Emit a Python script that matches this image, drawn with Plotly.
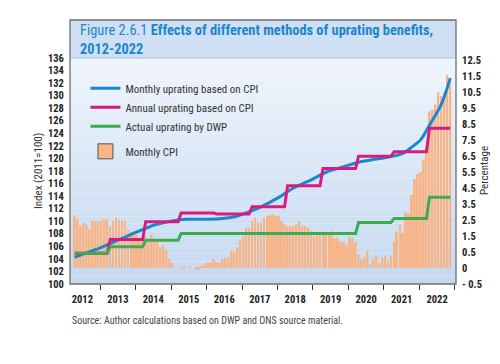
import pandas as pd
import plotly.graph_objects as go

# ---------------- data ----------------
# Monthly CPI (%), Apr 2012 .. Nov 2022
cpi_2012 = [3.0, 2.8, 2.4, 2.6, 2.5, 2.2, 2.7, 2.7, 2.7]
cpi_2013 = [2.7, 2.8, 2.8, 2.4, 2.7, 2.9, 2.8, 2.7, 2.7, 2.2, 2.1, 2.0]
cpi_2014 = [1.9, 1.7, 1.6, 1.8, 1.5, 1.9, 1.6, 1.5, 1.2, 1.3, 1.0, 0.5]
cpi_2015 = [0.3, 0.0, 0.0, -0.1, 0.1, 0.0, 0.1, 0.0, -0.1, -0.1, 0.1, 0.2]
cpi_2016 = [0.3, 0.3, 0.5, 0.3, 0.3, 0.5, 0.6, 0.6, 1.0, 0.9, 1.2, 1.6]
cpi_2017 = [1.8, 2.3, 2.3, 2.7, 2.9, 2.6, 2.6, 2.9, 3.0, 3.0, 3.1, 3.0]
cpi_2018 = [3.0, 2.7, 2.5, 2.4, 2.4, 2.4, 2.5, 2.7, 2.4, 2.4, 2.3, 2.1]
cpi_2019 = [1.8, 1.9, 1.9, 2.1, 2.0, 2.0, 2.1, 1.7, 1.7, 1.5, 1.5, 1.3]
cpi_2020 = [1.8, 1.7, 1.5, 0.8, 0.5, 0.6, 1.0, 0.2, 0.5, 0.7, 0.3, 0.6]
cpi_2021 = [0.7, 0.4, 0.7, 1.5, 2.1, 2.5, 2.0, 3.2, 3.1, 4.2, 5.1, 5.4]
cpi_2022 = [5.5, 6.2, 7.0, 9.0, 9.1, 9.4, 10.1, 9.9, 10.1, 11.1, 10.7]
monthly_cpi = (cpi_2012 + cpi_2013 + cpi_2014 + cpi_2015 + cpi_2016 + cpi_2017
               + cpi_2018 + cpi_2019 + cpi_2020 + cpi_2021 + cpi_2022)

months = pd.date_range("2012-04-01", periods=len(monthly_cpi), freq="MS") + pd.Timedelta(days=14)

# Monthly uprating based on CPI (index, 2011=100) - read points
blue_dates = ["2012-04-15", "2012-07-15", "2013-01-15", "2013-07-15", "2014-01-15",
              "2014-07-15", "2015-01-15", "2015-06-15", "2015-11-15", "2016-05-15",
              "2016-10-15", "2017-03-15", "2017-07-15", "2018-01-15", "2018-06-15",
              "2018-12-15", "2019-05-15", "2019-11-15", "2020-04-15", "2020-10-15",
              "2021-04-15", "2021-07-15", "2021-10-15", "2022-01-15", "2022-04-15",
              "2022-08-15", "2022-11-15"]
blue_values = [104.25, 104.8, 105.85, 107.05, 108.3,
               109.4, 110.05, 110.3, 110.3, 110.4,
               110.7, 111.5, 112.3, 113.8, 115.3,
               116.6, 117.8, 118.7, 119.4, 119.9,
               120.4, 120.8, 121.8, 123.0, 125.3,
               128.6, 132.8]

# Uprating years (April to March)
uprating_years = [2012, 2013, 2014, 2015, 2016, 2017, 2018, 2019, 2020, 2021, 2022]
annual_cpi_index = [104.9, 107.1, 109.9, 111.3, 111.15, 112.3, 115.65, 118.4, 120.35, 121.05, 124.8]
dwp_index = [104.9, 105.95, 106.95, 108.05, 108.05, 108.05, 108.05, 108.05, 109.8, 110.45, 113.8]

right_tick_text = ["- 0.5", "0"] + [f"{v}.5" for v in range(0, 13)]

# ---------------- derived monthly step series ----------------
def upr_year(d):
    return d.year if d.month >= 4 else d.year - 1

annual_map = dict(zip(uprating_years, annual_cpi_index))
dwp_map = dict(zip(uprating_years, dwp_index))
pink_series = [annual_map[upr_year(d)] for d in months]
green_series = [dwp_map[upr_year(d)] for d in months]

# ---------------- styles ----------------
FONT = "Liberation Sans Narrow, Roboto Condensed, DejaVu Sans Condensed, Roboto, sans-serif"
BLUE = "#1a88d0"
PINK = "#d81b7f"
GREEN = "#3dab4f"
ORANGE = "#f8b487"
TITLE_BLUE = "#1b86cc"

fig = go.Figure()

fig.add_trace(go.Bar(
    x=months, y=monthly_cpi, marker=dict(color=ORANGE, line=dict(width=0)),
    yaxis="y", showlegend=False, name="Monthly CPI"))

fig.add_trace(go.Scatter(
    x=pd.to_datetime(blue_dates), y=blue_values, mode="lines",
    line=dict(color=BLUE, width=3, shape="spline", smoothing=0.8),
    yaxis="y2", name="Monthly uprating based on CPI", legendgroup="a"))
fig.add_trace(go.Scatter(
    x=months, y=pink_series, mode="lines", line=dict(color=PINK, width=3),
    yaxis="y2", name="Annual uprating based on CPI", legendgroup="a"))
fig.add_trace(go.Scatter(
    x=months, y=green_series, mode="lines", line=dict(color=GREEN, width=3),
    yaxis="y2", name="Actual uprating by DWP", legendgroup="a"))
# legend swatch for the bars
fig.add_trace(go.Scatter(
    x=[None], y=[None], mode="markers", yaxis="y2", name="Monthly CPI", legendgroup="b",
    marker=dict(symbol="square", size=15, color=ORANGE, line=dict(color="#555555", width=1))))

# ---------------- background shapes ----------------
shapes = []
top_c = (238, 244, 251)
bot_c = (197, 217, 240)
n = 30
for i in range(n):
    t = i / (n - 1)
    c = tuple(int(round(top_c[k] + (bot_c[k] - top_c[k]) * t)) for k in range(3))
    shapes.append(dict(type="rect", xref="paper", yref="paper", layer="below",
                       x0=0, x1=1, y0=1 - (i + 1) / n, y1=1 - i / n,
                       fillcolor=f"rgb{c}", line=dict(width=0)))
TOP = (284 - 20) / 226
shapes.append(dict(type="rect", xref="paper", yref="paper", layer="below",
                   x0=0, x1=1, y0=1, y1=TOP, fillcolor="#cfe0f4", line=dict(width=0)))
shapes.append(dict(type="line", xref="paper", yref="paper", layer="below",
                   x0=0, x1=1, y0=1, y1=1, line=dict(color="#a9c0db", width=1)))
shapes.append(dict(type="rect", xref="paper", yref="paper", layer="above",
                   x0=0, x1=1, y0=0, y1=TOP, line=dict(color="#6e6e6e", width=1.3)))

RIGHT_STEP = 0.92
TICKFONT = dict(size=10.5, family=FONT, color="#222222", weight="bold")
fig.update_layout(
    width=500, height=364,
    margin=dict(l=70, r=44, t=58, b=80),
    paper_bgcolor="white", plot_bgcolor="rgba(0,0,0,0)",
    bargap=0.3,
    shapes=shapes,
    font=dict(family=FONT, color="#222222"),
    xaxis=dict(type="date", range=["2012-02-26", "2023-01-13"],
               tick0="2012-01-01", dtick="M12", tickformat="%Y", ticklabelmode="period",
               ticks="outside", ticklen=5, tickcolor="#333333", showgrid=False,
               zeroline=False, showline=False, tickfont=TICKFONT),
    yaxis=dict(side="right", range=[-0.925, 12.07],
               tickvals=[RIGHT_STEP * (k - 1) for k in range(15)], ticktext=right_tick_text,
               showgrid=False, zeroline=False, showline=False, ticks="outside", ticklen=3,
               tickcolor="rgba(0,0,0,0)", tickfont=TICKFONT),
    yaxis2=dict(side="left", overlaying="y", range=[100, 136], dtick=2, tick0=100,
                showgrid=False, zeroline=False, showline=False, ticks="outside", ticklen=3,
                tickcolor="rgba(0,0,0,0)", tickfont=TICKFONT),
    legend=dict(x=0.04, y=0.93, xanchor="left", yanchor="top", bgcolor="rgba(0,0,0,0)",
                traceorder="grouped", tracegroupgap=6,
                font=dict(size=11, family=FONT, color="#333333")),
    annotations=[
        dict(xref="paper", yref="paper", x=0.022, y=(284 - 40.5) / 226, xanchor="left",
             yanchor="middle", showarrow=False, align="left",
             text="Figure 2.6.1 <b>Effects of different methods of uprating benefits,</b>"
                  "<br><b>2012-2022</b>",
             font=dict(size=14.4, family=FONT, color=TITLE_BLUE)),
        dict(xref="paper", yref="paper", x=(38 - 70) / 386, y=0.5, textangle=-90,
             xanchor="center", yanchor="middle",
             showarrow=False, text="Index (2011=100)",
             font=dict(size=11, family=FONT, color="#333333")),
        dict(xref="paper", yref="paper", x=(484 - 70) / 386, y=0.5, textangle=-90,
             xanchor="center", yanchor="middle",
             showarrow=False, text="Percentage",
             font=dict(size=11, family=FONT, color="#333333")),
        dict(xref="paper", yref="paper", x=0.0, y=(284 - 320) / 226, xanchor="left",
             yanchor="middle", showarrow=False,
             text="Source: Author calculations based on DWP and ONS source material.",
             font=dict(size=10, family=FONT, color="#444444")),
    ],
)

fig.write_html("out.html")
